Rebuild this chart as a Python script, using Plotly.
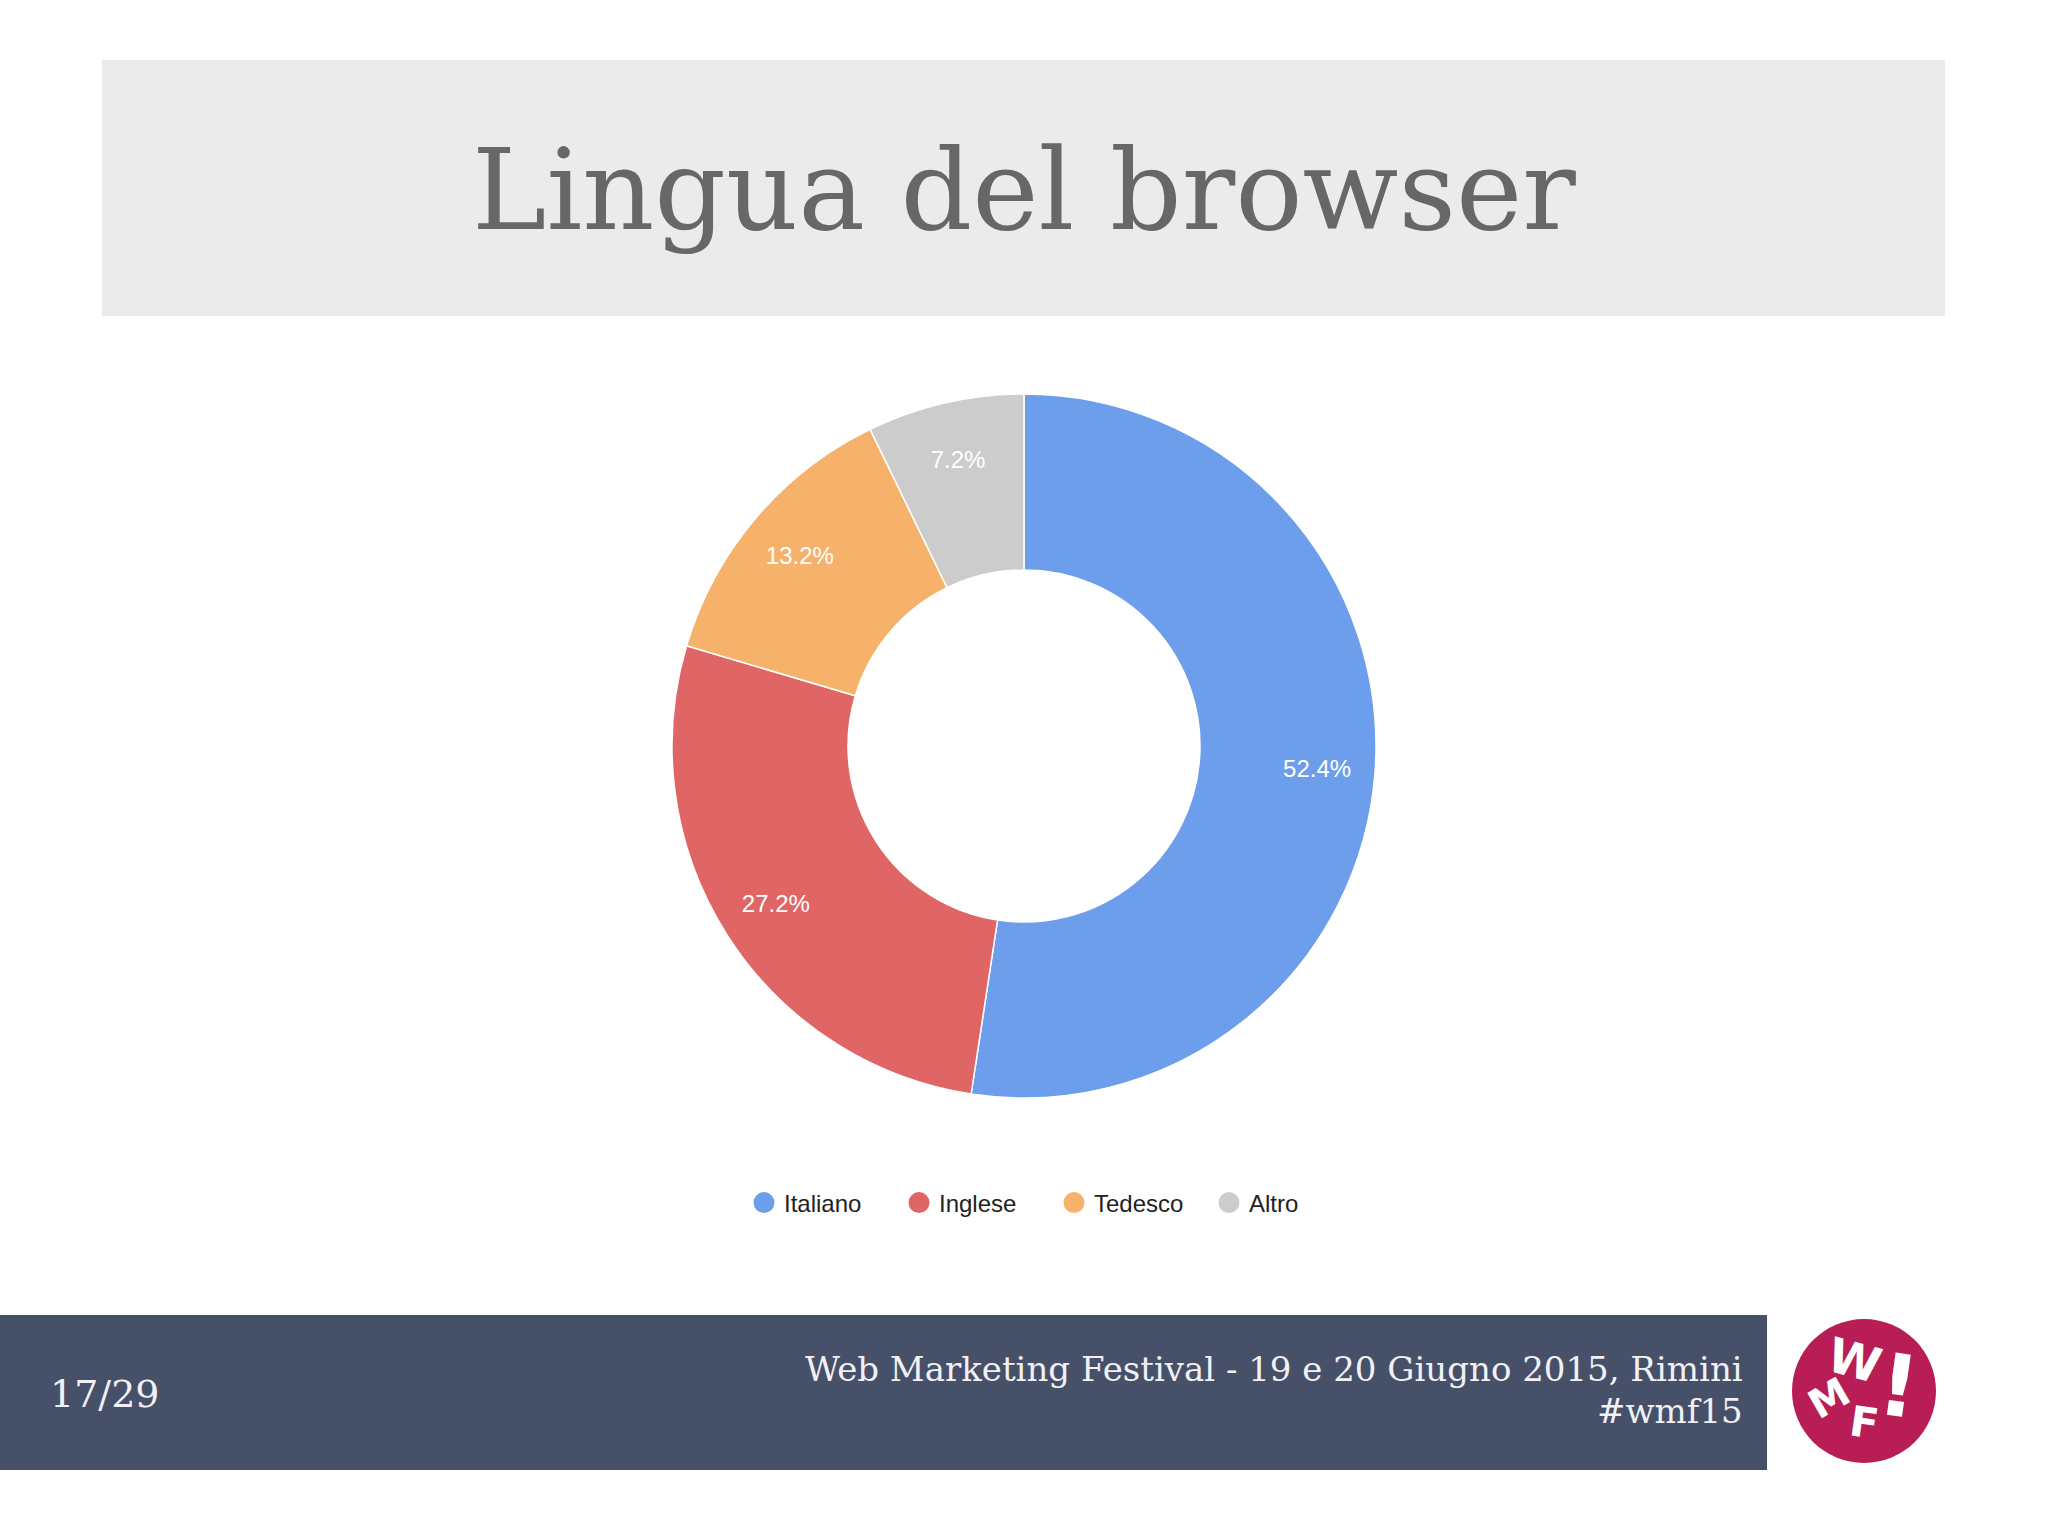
import plotly.graph_objects as go

# ---- data ----
languages = ["Italiano", "Inglese", "Tedesco", "Altro"]
shares = [52.4, 27.2, 13.2, 7.2]
slice_colors = ["#6D9EEB", "#E06666", "#F6B26B", "#CCCCCC"]

title_text = "Lingua del browser"
page_label = "17/29"
footer_line1 = "Web Marketing Festival - 19 e 20 Giugno 2015, Rimini"
footer_line2 = "#wmf15"

W, H = 2048, 1536

def px(x):
    return x / W

def py(y):
    return 1 - y / H

fig = go.Figure()

# donut
cx, cy, r = 1024, 746, 352
dom = dict(x=[px(cx - r), px(cx + r)], y=[py(cy + r), py(cy - r)])
fig.add_trace(go.Pie(
    labels=languages,
    values=shares,
    sort=False,
    direction="clockwise",
    rotation=0,
    hole=0.5,
    marker=dict(colors=slice_colors, line=dict(color="white", width=1.5)),
    textinfo="none",
    domain=dom,
    showlegend=False,
    hoverinfo="label+percent",
))
# transparent overlay ring that carries the percentage labels further out
fig.add_trace(go.Pie(
    labels=languages,
    values=shares,
    sort=False,
    direction="clockwise",
    rotation=0,
    hole=0.67,
    marker=dict(colors=["rgba(0,0,0,0)"] * len(languages), line=dict(width=0)),
    texttemplate="%{percent:.1%}",
    textposition="inside",
    insidetextorientation="horizontal",
    textfont=dict(family="Liberation Sans, Arial", size=24, color="white"),
    domain=dom,
    showlegend=False,
    hoverinfo="skip",
))

# legend entries with circle markers
for name, col in zip(languages, slice_colors):
    fig.add_trace(go.Scatter(
        x=[None], y=[None], mode="markers", name=name,
        marker=dict(symbol="circle", size=16, color=col,
                    line=dict(color=col, width=5)),
        showlegend=True,
    ))

shapes = [
    # title box
    dict(type="rect", xref="paper", yref="paper",
         x0=px(102), x1=px(1945), y0=py(316), y1=py(60),
         fillcolor="#EBEBEC", line=dict(width=0), layer="below"),
    # footer band
    dict(type="rect", xref="paper", yref="paper",
         x0=0, x1=px(1767), y0=py(1470), y1=py(1315),
         fillcolor="#475069", line=dict(width=0), layer="below"),
    # logo circle
    dict(type="circle", xref="paper", yref="paper",
         x0=px(1864 - 72), x1=px(1864 + 72), y0=py(1391 + 72), y1=py(1391 - 72),
         fillcolor="#B81D55", line=dict(width=0), layer="below"),
]

def logo_letter(txt, x, y, size, angle):
    return dict(text="<b>%s</b>" % txt, x=px(x), y=py(y), xref="paper", yref="paper",
                showarrow=False, xanchor="center", yanchor="middle", textangle=angle,
                font=dict(family="DejaVu Sans", size=size, color="white"))

annotations = [
    dict(text=title_text, x=0.5, y=py(190), xref="paper", yref="paper",
         showarrow=False, xanchor="center", yanchor="middle",
         font=dict(family="DejaVu Serif", size=112, color="#67676A")),
    dict(text=page_label, x=px(48), y=py(1394), xref="paper", yref="paper",
         showarrow=False, xanchor="left", yanchor="middle",
         font=dict(family="DejaVu Serif", size=38, color="#F0F0F5")),
    dict(text=footer_line1, x=px(1745), y=py(1369), xref="paper", yref="paper",
         showarrow=False, xanchor="right", yanchor="middle",
         font=dict(family="DejaVu Serif", size=34, color="#F0F0F5")),
    dict(text=footer_line2, x=px(1745), y=py(1411), xref="paper", yref="paper",
         showarrow=False, xanchor="right", yanchor="middle",
         font=dict(family="DejaVu Serif", size=34, color="#F0F0F5")),
    logo_letter("W", 1854, 1360, 48, 15),
    logo_letter("M", 1829, 1398, 40, -30),
    logo_letter("F", 1864, 1422, 42, 8),
    logo_letter("!", 1898, 1386, 86, 8),
]

fig.update_layout(
    width=W, height=H,
    margin=dict(l=0, r=0, t=0, b=0),
    paper_bgcolor="white",
    plot_bgcolor="white",
    xaxis=dict(visible=False, domain=[0, 0.01]),
    yaxis=dict(visible=False, domain=[0, 0.01]),
    shapes=shapes,
    annotations=annotations,
    legend=dict(
        orientation="h", x=0.5 + 30 / W, xanchor="center", y=py(1203), yanchor="middle",
        font=dict(family="Liberation Sans, Arial", size=24, color="#222222"),
        itemwidth=30, bgcolor="rgba(0,0,0,0)",
        entrywidth=110, entrywidthmode="pixels",
    ),
)

fig.write_html("out.html", config={"displayModeBar": False},
               post_script="document.body.style.margin='0';")
